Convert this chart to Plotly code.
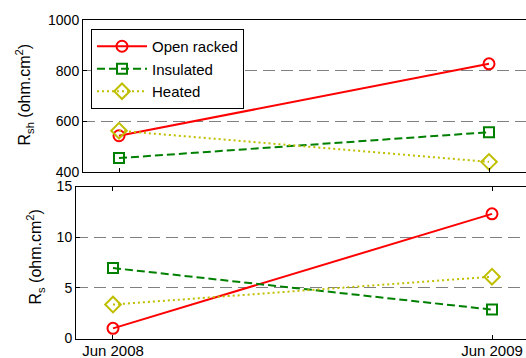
import plotly.graph_objects as go

# Measurement dates (numeric positions with date labels)
dates = [0, 1]
date_labels = ["Jun 2008", "Jun 2009"]

series_names = ["Open racked", "Insulated", "Heated"]

# Shunt resistance, ohm.cm^2
rsh_open = [543, 827]
rsh_insulated = [455, 557]
rsh_heated = [563, 440]

# Series resistance, ohm.cm^2
rs_open = [1.0, 12.3]
rs_insulated = [6.95, 2.85]
rs_heated = [3.35, 6.1]

colors = ["#ff0000", "#008000", "#bfbf00"]
dashes = ["solid", "8px,4px", "2px,3px"]
symbols = ["circle-open", "square-open", "diamond-open"]
sizes = [11, 10, 12]

W, H = 526, 358
FONT = "Liberation Sans, Arial, sans-serif"
FS = 15

fig = go.Figure()

top_sets = [rsh_open, rsh_insulated, rsh_heated]
bot_sets = [rs_open, rs_insulated, rs_heated]

def add_series(vals, xa, ya, legend):
    for i, name in enumerate(series_names):
        fig.add_trace(go.Scatter(
            x=dates, y=vals[i], name=name, mode="lines+markers",
            line=dict(color=colors[i], width=2, dash=dashes[i]),
            marker=dict(symbol=symbols[i], size=sizes[i], color=colors[i],
                        line=dict(width=2, color=colors[i])),
            xaxis=xa, yaxis=ya, showlegend=legend))

add_series(top_sets, "x", "y", True)
add_series(bot_sets, "x2", "y2", False)

def px_x(p):
    return p / W

def px_y(p):
    return 1 - p / H

axis_common = dict(showline=True, linecolor="#000000", linewidth=1,
                   ticks="inside", ticklen=4, tickcolor="#000000",
                   zeroline=False, automargin=False)
grid = dict(showgrid=True, gridcolor="#808080", griddash="12px,6px",
            gridwidth=1)
xfont = dict(family=FONT, size=FS, color="#000000")
yfont = dict(family=FONT, size=14, color="#000000")

fig.update_layout(
    width=W, height=H,
    margin=dict(l=0, r=0, t=0, b=0),
    paper_bgcolor="white", plot_bgcolor="white",
    font=dict(family=FONT, size=FS, color="#000000"),
    xaxis=dict(domain=[px_x(83), 1], range=[-0.0973, 1.1],
               tickvals=dates, ticktext=["", ""], mirror=True,
               showgrid=False, anchor="y", tickfont=xfont, **axis_common),
    yaxis=dict(domain=[px_y(172), px_y(20)], range=[400, 1000],
               tickvals=[400, 600, 800, 1000], anchor="x",
               tickfont=yfont, **grid, **axis_common),
    xaxis2=dict(domain=[px_x(76), 1], range=[-0.0976, 1.0897],
                tickvals=dates, ticktext=date_labels, mirror="ticks",
                showgrid=False, anchor="y2", tickfont=xfont,
                ticklabelstandoff=-2, **axis_common),
    yaxis2=dict(domain=[px_y(338.5), px_y(186.5)], range=[0, 15],
                tickvals=[0, 5, 10, 15], anchor="x2",
                tickfont=yfont, **grid, **axis_common),
    legend=dict(x=px_x(91), y=px_y(29), xanchor="left", yanchor="top",
                bgcolor="white", bordercolor="#000000", borderwidth=1,
                font=dict(family=FONT, size=FS, color="#000000"),
                itemwidth=50, tracegroupgap=0),
    annotations=[
        dict(text="R<sub>sh</sub> (ohm.cm<sup>2</sup>)", textangle=-90,
             x=px_x(24), y=px_y(94.5), xref="paper", yref="paper",
             xanchor="center", yanchor="middle", showarrow=False,
             font=dict(family=FONT, size=16, color="#000000")),
        dict(text="R<sub>s</sub> (ohm.cm<sup>2</sup>)", textangle=-90,
             x=px_x(35), y=px_y(257.5), xref="paper", yref="paper",
             xanchor="center", yanchor="middle", showarrow=False,
             font=dict(family=FONT, size=16, color="#000000")),
    ],
)

fig.write_html("out.html")
